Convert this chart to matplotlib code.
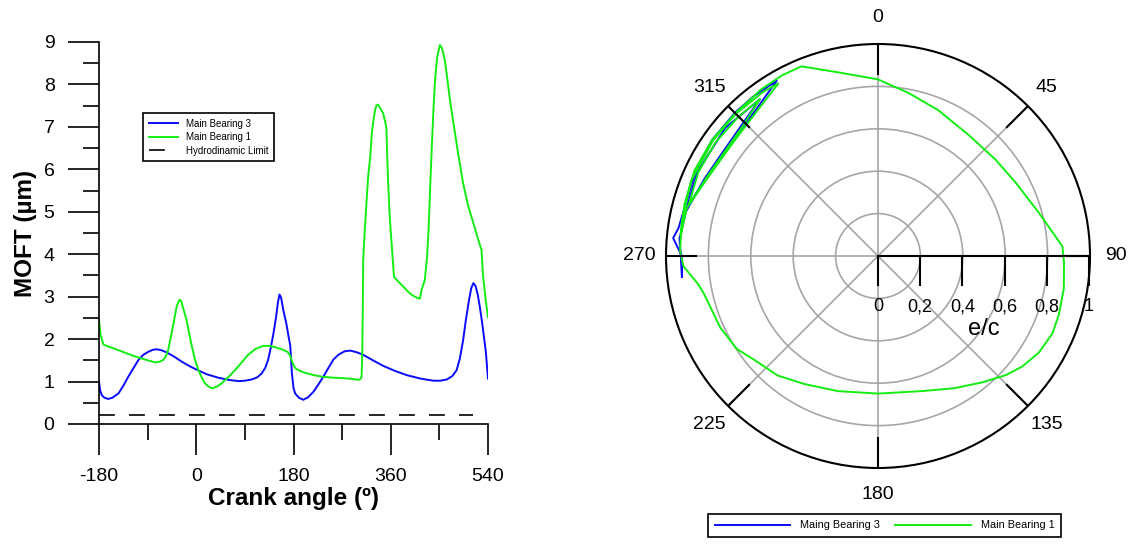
import numpy as np
import matplotlib
matplotlib.use("Agg")
import matplotlib.pyplot as plt
from matplotlib.ticker import MultipleLocator

plt.rcParams['font.family'] = ['Liberation Sans', 'DejaVu Sans']
plt.rcParams['axes.unicode_minus'] = False

BLUE = '#0a0aff'
GREEN = '#12ee12'

# MOFT over the cycle (crank angle in deg, film thickness in um)
mb3_angle = [-180, -178, -175, -170, -163, -155, -144, -135, -126, -116, -107, -98, -89, -80,
             -73, -65, -55, -40, -27, -12, 4, 20, 41, 60, 78, 90, 103, 113, 121, 128, 133,
             138, 143, 148, 151, 154, 157, 161, 167, 171, 174, 177, 180, 183, 190, 198, 207,
             217, 226, 235, 245, 254, 263, 274, 285, 297, 309, 327, 346, 368, 390, 415, 439,
             452, 464, 474, 482, 488, 494, 499, 505, 509, 513, 517, 521, 525, 529, 533, 536, 540]
mb3_moft = [1.00, 0.80, 0.68, 0.62, 0.59, 0.62, 0.72, 0.90, 1.11, 1.32, 1.51, 1.63, 1.70, 1.75,
            1.76, 1.74, 1.69, 1.58, 1.47, 1.36, 1.26, 1.17, 1.09, 1.04, 1.01, 1.02, 1.05, 1.10,
            1.19, 1.33, 1.51, 1.80, 2.14, 2.54, 2.85, 3.05, 2.98, 2.69, 2.35, 2.05, 1.85, 1.20,
            0.85, 0.72, 0.62, 0.57, 0.63, 0.76, 0.93, 1.11, 1.33, 1.52, 1.63, 1.71, 1.73, 1.69,
            1.63, 1.50, 1.37, 1.25, 1.15, 1.07, 1.02, 1.02, 1.05, 1.13, 1.27, 1.55, 1.98, 2.45,
            2.93, 3.20, 3.32, 3.25, 3.05, 2.75, 2.40, 2.00, 1.70, 1.07]

mb1_angle = [-180, -177, -172, -170, -157, -144, -128, -113, -95, -76, -67, -61, -56, -52, -47,
             -41, -36, -31, -28, -24, -18, -13, -8, -2, 4, 10, 16, 23, 30, 38, 47, 59, 72, 84,
             96, 110, 124, 135, 146, 158, 169, 174, 178, 183, 189, 200, 218, 235, 255, 272, 290,
             300, 304, 306, 307, 308, 309, 312, 315, 318, 322, 325, 328, 331, 334, 337, 341, 346,
             350, 352, 353.5, 355, 358, 362, 366, 375, 383, 391, 399, 408, 414, 417, 423, 427,
             430, 433, 436, 439, 442, 446, 451, 455, 460, 465, 470, 476, 485, 494, 503, 513, 521,
             528, 531, 535, 540]
mb1_moft = [2.46, 2.10, 1.88, 1.86, 1.80, 1.74, 1.66, 1.59, 1.52, 1.45, 1.47, 1.51, 1.60, 1.74,
            2.05, 2.45, 2.78, 2.93, 2.90, 2.72, 2.45, 2.13, 1.82, 1.50, 1.27, 1.10, 0.96, 0.88,
            0.84, 0.88, 0.96, 1.10, 1.27, 1.45, 1.63, 1.77, 1.84, 1.84, 1.81, 1.76, 1.70, 1.60,
            1.45, 1.32, 1.27, 1.21, 1.15, 1.11, 1.09, 1.08, 1.06, 1.04, 1.06, 1.11, 1.50, 2.40,
            3.86, 4.60, 5.20, 5.80, 6.30, 6.85, 7.16, 7.40, 7.52, 7.52, 7.43, 7.32, 7.10, 6.97,
            6.30, 5.75, 4.90, 4.18, 3.47, 3.34, 3.24, 3.13, 3.04, 2.98, 2.95, 3.16, 3.39, 3.90,
            4.57, 5.60, 6.53, 7.40, 8.11, 8.65, 8.93, 8.85, 8.58, 8.10, 7.60, 7.09, 6.35, 5.67,
            5.15, 4.73, 4.38, 4.10, 3.47, 3.00, 2.51]

hydro_angle = [-180, 513]
hydro_limit = [0.22, 0.22]

# journal orbit: angle (deg, clockwise from top) and eccentricity ratio e/c
mb3_theta = [264, 270, 275, 278, 285, 295, 305, 315, 322, 330,
             320, 308, 296, 284, 295, 310, 323,
             314, 304, 294, 283, 275, 270, 264]
mb3_ecc = [0.93, 0.925, 0.97, 0.95, 0.94, 0.95, 0.955, 0.955, 0.955, 0.955,
           0.898, 0.876, 0.885, 0.93, 0.94, 0.94, 0.926,
           0.892, 0.881, 0.896, 0.93, 0.94, 0.93, 0.93]

mb1_theta = [276, 285, 295, 305, 315, 325, 332, 338, 348, 0, 10.5, 22.5, 37, 50.6, 62, 75,
             87, 92, 100, 108, 114, 121, 127.5, 133, 140.6, 150, 162, 180, 196.6, 210, 220,
             230, 236.6, 245.5, 258, 261, 267, 271.5, 280, 292, 305, 315, 325, 330,
             320, 308, 296, 285, 295, 305, 315, 323,
             314, 304, 294.5, 284, 276]
mb1_ecc = [0.935, 0.945, 0.955, 0.955, 0.952, 0.96, 0.965, 0.965, 0.885, 0.833, 0.783, 0.744,
           0.713, 0.717, 0.736, 0.786, 0.871, 0.878, 0.89, 0.897, 0.90, 0.885, 0.857, 0.824,
           0.772, 0.72, 0.67, 0.649, 0.665, 0.697, 0.736, 0.762, 0.797, 0.817, 0.841, 0.858,
           0.919, 0.934, 0.94, 0.95, 0.95, 0.948, 0.945, 0.94,
           0.89, 0.868, 0.88, 0.925, 0.935, 0.935, 0.93, 0.926,
           0.885, 0.875, 0.89, 0.93, 0.935]

theta_ticks = [0, 45, 90, 135, 180, 225, 270, 315]
ecc_ticks = [0, 0.2, 0.4, 0.6, 0.8, 1.0]
ecc_labels = ['0', '0,2', '0,4', '0,6', '0,8', '1']

W, H = 1137, 547
fig = plt.figure(figsize=(W / 100, H / 100), dpi=100)

# ---- MOFT vs crank angle ----
ax = fig.add_axes([99 / W, 1 - 424 / H, 389 / W, 382 / H])
ax.plot(mb3_angle, mb3_moft, color=BLUE, lw=1.4, label='Main Bearing 3')
ax.plot(mb1_angle, mb1_moft, color=GREEN, lw=1.4, label='Main Bearing 1')
ax.plot(hydro_angle, hydro_limit, color='black', lw=1.2, dashes=(9.5, 8.5),
        label='Hydrodinamic Limit')
ax.set_xlim(-180, 540)
ax.set_ylim(0, 9)
ax.set_xticks([-180, 0, 180, 360, 540])
ax.xaxis.set_minor_locator(MultipleLocator(90))
ax.set_yticks(range(10))
ax.yaxis.set_minor_locator(MultipleLocator(0.5))
for side in ('top', 'right'):
    ax.spines[side].set_visible(False)
for side in ('left', 'bottom'):
    ax.spines[side].set_linewidth(1.2)
ax.tick_params(which='major', length=22, width=1.2, pad=10, labelsize=14)
ax.tick_params(which='minor', length=11.5, width=1.2)
ax.set_ylabel('MOFT (µm)', fontsize=17.5, fontweight='bold')
ax.set_xlabel('Crank angle (º)', fontsize=17.5, fontweight='bold')
ax.yaxis.set_label_coords(-0.16, 0.5)
ax.xaxis.set_label_coords(0.5, -0.165)
leg = ax.legend(loc='upper left', bbox_to_anchor=(143 / W, 1 - 113 / H),
                bbox_transform=fig.transFigure, borderaxespad=0, fontsize=7,
                handlelength=3.0, handletextpad=0.8, labelspacing=0.35,
                fancybox=False, framealpha=1, edgecolor='black', borderpad=0.6)
leg.get_frame().set_linewidth(1.2)

# ---- journal orbit (polar) ----
cx, cy, rad = 878, 256, 212
pax = fig.add_axes([(cx - rad) / W, (H - cy - rad) / H, 2 * rad / W, 2 * rad / H],
                   projection='polar')
pax.set_theta_zero_location('N')
pax.set_theta_direction(-1)
l3, = pax.plot(np.radians(mb3_theta), mb3_ecc, color=BLUE, lw=1.4)
l1, = pax.plot(np.radians(mb1_theta), mb1_ecc, color=GREEN, lw=1.4)
pax.set_rlim(0, 1)
pax.set_yticks([0.2, 0.4, 0.6, 0.8])
pax.set_yticklabels([])
pax.set_xticks(np.radians(theta_ticks))
pax.set_xticklabels([str(t) for t in theta_ticks])
pax.grid(True, color='#a6a6a6', lw=1.2)
pax.spines['polar'].set_linewidth(1.5)
pax.tick_params(axis='x', length=0, pad=12, labelsize=14)
# short black marks pointing inward from the rim at each labelled angle
for t in theta_ticks:
    pax.plot([np.radians(t)] * 2, [0.86, 1.0], color='black', lw=1.5, zorder=3)

# radial e/c scale along the 90 deg direction
rax = fig.add_axes([cx / W, (H - cy) / H, 211 / W, 0.0001])
rax.set_xlim(0, 1)
rax.patch.set_visible(False)
for side in ('top', 'right', 'left'):
    rax.spines[side].set_visible(False)
rax.spines['bottom'].set_linewidth(1.5)
rax.set_yticks([])
rax.set_xticks(ecc_ticks)
rax.set_xticklabels(ecc_labels)
rax.tick_params(axis='x', length=21.5, width=1.5, pad=9, labelsize=13)
rax.set_xlabel('e/c', fontsize=17, labelpad=2)

fig.legend([l3, l1], ['Maing Bearing 3', 'Main Bearing 1'], ncol=2,
           loc='upper left', bbox_to_anchor=(708 / W, 1 - 514 / H),
           borderaxespad=0, fontsize=7.8, handlelength=7.0, handletextpad=0.9,
           columnspacing=1.4, fancybox=False, framealpha=1, edgecolor='black',
           borderpad=0.6)
fig.legends[0].get_frame().set_linewidth(1.2)

fig.savefig('out.png', dpi=100)
